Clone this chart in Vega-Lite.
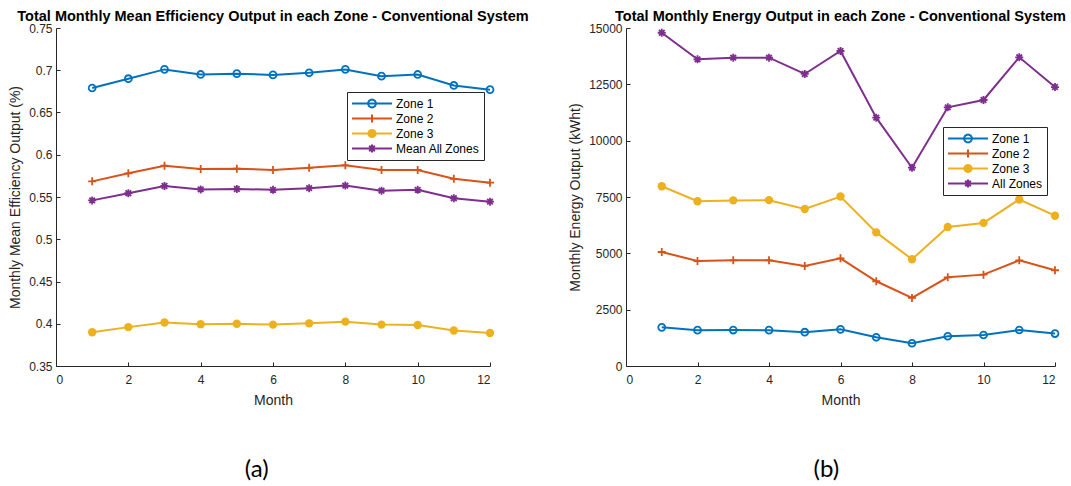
{
  "$schema": "https://vega.github.io/schema/vega-lite/v6.json",
  "background": "white",
  "padding": {"left": 8, "top": 8, "right": 2, "bottom": 5},
  "config": {
    "font": "Liberation Sans",
    "view": {"stroke": null},
    "axis": {"grid": false, "domainColor": "#262626", "tickColor": "#262626", "labelColor": "#262626", "titleColor": "#262626", "labelFontSize": 12, "titleFontSize": 14, "titleFontWeight": "normal", "tickSize": -4, "labelFont": "Liberation Sans", "titleFont": "Liberation Sans"},
    "title": {"fontSize": 14.5, "fontWeight": "bold", "color": "#000000", "offset": -2, "frame": "group", "font": "Liberation Sans"},
    "legend": {
      "title": null, "orient": "none",
      "symbolSize": 1600, "clipHeight": 15, "rowPadding": 0, "padding": 4, "labelOffset": 3,
      "strokeColor": "#262626", "fillColor": "white", "labelFontSize": 12, "labelColor": "#000000", "labelFont": "Liberation Sans",
      "symbolStrokeWidth": 2
    }
  },
  "datasets": {
    "eff": [
      {"month": 1, "zone": "Zone 1", "value": 0.679}, {"month": 2, "zone": "Zone 1", "value": 0.690}, {"month": 3, "zone": "Zone 1", "value": 0.701}, {"month": 4, "zone": "Zone 1", "value": 0.695}, {"month": 5, "zone": "Zone 1", "value": 0.696}, {"month": 6, "zone": "Zone 1", "value": 0.6945}, {"month": 7, "zone": "Zone 1", "value": 0.697}, {"month": 8, "zone": "Zone 1", "value": 0.701}, {"month": 9, "zone": "Zone 1", "value": 0.693}, {"month": 10, "zone": "Zone 1", "value": 0.695}, {"month": 11, "zone": "Zone 1", "value": 0.682}, {"month": 12, "zone": "Zone 1", "value": 0.677},
      {"month": 1, "zone": "Zone 2", "value": 0.5685}, {"month": 2, "zone": "Zone 2", "value": 0.578}, {"month": 3, "zone": "Zone 2", "value": 0.587}, {"month": 4, "zone": "Zone 2", "value": 0.583}, {"month": 5, "zone": "Zone 2", "value": 0.5835}, {"month": 6, "zone": "Zone 2", "value": 0.582}, {"month": 7, "zone": "Zone 2", "value": 0.5845}, {"month": 8, "zone": "Zone 2", "value": 0.5875}, {"month": 9, "zone": "Zone 2", "value": 0.582}, {"month": 10, "zone": "Zone 2", "value": 0.582}, {"month": 11, "zone": "Zone 2", "value": 0.5715}, {"month": 12, "zone": "Zone 2", "value": 0.567},
      {"month": 1, "zone": "Zone 3", "value": 0.390}, {"month": 2, "zone": "Zone 3", "value": 0.396}, {"month": 3, "zone": "Zone 3", "value": 0.4015}, {"month": 4, "zone": "Zone 3", "value": 0.3995}, {"month": 5, "zone": "Zone 3", "value": 0.400}, {"month": 6, "zone": "Zone 3", "value": 0.399}, {"month": 7, "zone": "Zone 3", "value": 0.4005}, {"month": 8, "zone": "Zone 3", "value": 0.4025}, {"month": 9, "zone": "Zone 3", "value": 0.399}, {"month": 10, "zone": "Zone 3", "value": 0.3985}, {"month": 11, "zone": "Zone 3", "value": 0.392}, {"month": 12, "zone": "Zone 3", "value": 0.389},
      {"month": 1, "zone": "Mean All Zones", "value": 0.546}, {"month": 2, "zone": "Mean All Zones", "value": 0.5545}, {"month": 3, "zone": "Mean All Zones", "value": 0.563}, {"month": 4, "zone": "Mean All Zones", "value": 0.559}, {"month": 5, "zone": "Mean All Zones", "value": 0.5595}, {"month": 6, "zone": "Mean All Zones", "value": 0.5585}, {"month": 7, "zone": "Mean All Zones", "value": 0.5605}, {"month": 8, "zone": "Mean All Zones", "value": 0.5635}, {"month": 9, "zone": "Mean All Zones", "value": 0.5575}, {"month": 10, "zone": "Mean All Zones", "value": 0.5585}, {"month": 11, "zone": "Mean All Zones", "value": 0.5485}, {"month": 12, "zone": "Mean All Zones", "value": 0.5445}
    ],
    "energy": [
      {"month": 1, "zone": "Zone 1", "value": 1716}, {"month": 2, "zone": "Zone 1", "value": 1590}, {"month": 3, "zone": "Zone 1", "value": 1595}, {"month": 4, "zone": "Zone 1", "value": 1590}, {"month": 5, "zone": "Zone 1", "value": 1500}, {"month": 6, "zone": "Zone 1", "value": 1627}, {"month": 7, "zone": "Zone 1", "value": 1275}, {"month": 8, "zone": "Zone 1", "value": 1010}, {"month": 9, "zone": "Zone 1", "value": 1320}, {"month": 10, "zone": "Zone 1", "value": 1376}, {"month": 11, "zone": "Zone 1", "value": 1598}, {"month": 12, "zone": "Zone 1", "value": 1440},
      {"month": 1, "zone": "Zone 2", "value": 5060}, {"month": 2, "zone": "Zone 2", "value": 4660}, {"month": 3, "zone": "Zone 2", "value": 4690}, {"month": 4, "zone": "Zone 2", "value": 4690}, {"month": 5, "zone": "Zone 2", "value": 4440}, {"month": 6, "zone": "Zone 2", "value": 4780}, {"month": 7, "zone": "Zone 2", "value": 3760}, {"month": 8, "zone": "Zone 2", "value": 3020}, {"month": 9, "zone": "Zone 2", "value": 3935}, {"month": 10, "zone": "Zone 2", "value": 4055}, {"month": 11, "zone": "Zone 2", "value": 4690}, {"month": 12, "zone": "Zone 2", "value": 4250},
      {"month": 1, "zone": "Zone 3", "value": 7975}, {"month": 2, "zone": "Zone 3", "value": 7310}, {"month": 3, "zone": "Zone 3", "value": 7350}, {"month": 4, "zone": "Zone 3", "value": 7360}, {"month": 5, "zone": "Zone 3", "value": 6970}, {"month": 6, "zone": "Zone 3", "value": 7520}, {"month": 7, "zone": "Zone 3", "value": 5930}, {"month": 8, "zone": "Zone 3", "value": 4735}, {"month": 9, "zone": "Zone 3", "value": 6170}, {"month": 10, "zone": "Zone 3", "value": 6350}, {"month": 11, "zone": "Zone 3", "value": 7390}, {"month": 12, "zone": "Zone 3", "value": 6670},
      {"month": 1, "zone": "All Zones", "value": 14790}, {"month": 2, "zone": "All Zones", "value": 13610}, {"month": 3, "zone": "All Zones", "value": 13685}, {"month": 4, "zone": "All Zones", "value": 13685}, {"month": 5, "zone": "All Zones", "value": 12960}, {"month": 6, "zone": "All Zones", "value": 13980}, {"month": 7, "zone": "All Zones", "value": 11020}, {"month": 8, "zone": "All Zones", "value": 8800}, {"month": 9, "zone": "All Zones", "value": 11480}, {"month": 10, "zone": "All Zones", "value": 11805}, {"month": 11, "zone": "All Zones", "value": 13700}, {"month": 12, "zone": "All Zones", "value": 12380}
    ]
  },
  "spacing": 39,
  "resolve": {"scale": {"color": "independent", "x": "independent", "y": "independent"}, "legend": {"color": "independent"}},
  "hconcat": [
    {
      "title": {"text": "(a)", "orient": "bottom", "anchor": "middle", "frame": "bounds", "fontSize": 24, "font": "Lato", "fontWeight": "normal", "offset": 51, "dx": -12, "color": "#000000"},
      "resolve": {"scale": {"color": "independent"}, "legend": {"color": "independent"}},
      "vconcat": [
        {
          "title": {"text": "Total Monthly Mean Efficiency Output in each Zone - Conventional System"},
          "width": 434,
          "height": 338,
          "data": {"name": "eff"},
          "encoding": {
            "x": {"field": "month", "type": "quantitative", "scale": {"domain": [0, 12], "nice": false}, "axis": {"title": "Month", "values": [0, 2, 4, 6, 8, 10, 12], "labelPadding": 12, "titlePadding": 8}},
            "y": {"field": "value", "type": "quantitative", "scale": {"domain": [0.35, 0.75], "nice": false, "zero": false}, "axis": {"title": "Monthly Mean Efficiency Output (%)", "values": [0.35, 0.4, 0.45, 0.5, 0.55, 0.6, 0.65, 0.7, 0.75], "format": "~g", "labelPadding": 8, "titlePadding": 6}},
            "color": {
              "field": "zone", "type": "nominal",
              "scale": {"domain": ["Zone 1", "Zone 2", "Zone 3", "Mean All Zones"], "range": ["#0072BD", "#D95319", "#EDB120", "#7E2F8E"]},
              "legend": {
                "legendX": 291, "legendY": 64,
                "encode": {"symbols": {"update": {
                  "shape": {"signal": "datum.value === 'Zone 1' ? 'M-1,0H1M0.2,0L0.1732,0.1M0.1732,0.1L0.1,0.1732M0.1,0.1732L0,0.2M0,0.2L-0.1,0.1732M-0.1,0.1732L-0.1732,0.1M-0.1732,0.1L-0.2,0M-0.2,0L-0.1732,-0.1M-0.1732,-0.1L-0.1,-0.1732M-0.1,-0.1732L0,-0.2M0,-0.2L0.1,-0.1732M0.1,-0.1732L0.1732,-0.1M0.1732,-0.1L0.2,0' : datum.value === 'Zone 2' ? 'M-1,0H1M0,-0.2V0.2' : datum.value === 'Zone 3' ? 'M-1,0H1M0.18,0C0.18,0.1,0.1,0.18,0,0.18C-0.1,0.18,-0.18,0.1,-0.18,0C-0.18,-0.1,-0.1,-0.18,0,-0.18C0.1,-0.18,0.18,-0.1,0.18,0ZM0.1,0L0.05,0.0866M0.05,0.0866L-0.05,0.0866M-0.05,0.0866L-0.1,0M-0.1,0L-0.05,-0.0866M-0.05,-0.0866L0.05,-0.0866M0.05,-0.0866L0.1,0M-0.04,0L0.04,0' : 'M-1,0H1M0,-0.2V0.2M-0.14,-0.14L0.14,0.14M-0.14,0.14L0.14,-0.14'"},
                  "fill": {"signal": "datum.value === 'Zone 3' ? '#EDB120' : 'transparent'"},
                  "stroke": {"signal": "datum.value === 'Zone 1' ? '#0072BD' : datum.value === 'Zone 2' ? '#D95319' : datum.value === 'Zone 3' ? '#EDB120' : '#7E2F8E'"},
                  "strokeWidth": {"value": 2}
                }}}
              }
            }
          },
          "layer": [
            {"mark": {"type": "line", "strokeWidth": 2}},
            {"transform": [{"filter": "datum.zone === 'Zone 1'"}], "mark": {"type": "point", "shape": "circle", "filled": false, "strokeWidth": 1.8, "size": 48, "opacity": 1}},
            {"transform": [{"filter": "datum.zone === 'Zone 2'"}], "mark": {"type": "point", "shape": "M-1,0H1M0,-1V1", "filled": false, "strokeWidth": 1.8, "size": 64, "opacity": 1}},
            {"transform": [{"filter": "datum.zone === 'Zone 3'"}], "mark": {"type": "point", "shape": "circle", "filled": true, "size": 70, "opacity": 1}},
            {"transform": [{"filter": "datum.zone === 'Mean All Zones'"}], "mark": {"type": "point", "shape": "M-1,0H1M0,-1V1M-0.7,-0.7L0.7,0.7M-0.7,0.7L0.7,-0.7", "filled": false, "strokeWidth": 1.8, "size": 64, "opacity": 1}}
          ]
        }
      ]
    },
    {
      "title": {"text": "(b)", "orient": "bottom", "anchor": "middle", "frame": "bounds", "fontSize": 24, "font": "Lato", "fontWeight": "normal", "offset": 51, "dx": 9, "color": "#000000"},
      "resolve": {"scale": {"color": "independent"}, "legend": {"color": "independent"}},
      "vconcat": [
        {
          "title": {"text": "Total Monthly Energy Output in each Zone - Conventional System"},
          "width": 429,
          "height": 338,
          "data": {"name": "energy"},
          "encoding": {
            "x": {"field": "month", "type": "quantitative", "scale": {"domain": [0, 12], "nice": false}, "axis": {"title": "Month", "values": [0, 2, 4, 6, 8, 10, 12], "labelPadding": 12, "titlePadding": 8}},
            "y": {"field": "value", "type": "quantitative", "scale": {"domain": [0, 15000], "nice": false}, "axis": {"title": "Monthly Energy Output (kWht)", "values": [0, 2500, 5000, 7500, 10000, 12500, 15000], "format": "d", "labelPadding": 8, "titlePadding": 6}},
            "color": {
              "field": "zone", "type": "nominal",
              "scale": {"domain": ["Zone 1", "Zone 2", "Zone 3", "All Zones"], "range": ["#0072BD", "#D95319", "#EDB120", "#7E2F8E"]},
              "legend": {
                "legendX": 317, "legendY": 99,
                "encode": {"symbols": {"update": {
                  "shape": {"signal": "datum.value === 'Zone 1' ? 'M-1,0H1M0.2,0L0.1732,0.1M0.1732,0.1L0.1,0.1732M0.1,0.1732L0,0.2M0,0.2L-0.1,0.1732M-0.1,0.1732L-0.1732,0.1M-0.1732,0.1L-0.2,0M-0.2,0L-0.1732,-0.1M-0.1732,-0.1L-0.1,-0.1732M-0.1,-0.1732L0,-0.2M0,-0.2L0.1,-0.1732M0.1,-0.1732L0.1732,-0.1M0.1732,-0.1L0.2,0' : datum.value === 'Zone 2' ? 'M-1,0H1M0,-0.2V0.2' : datum.value === 'Zone 3' ? 'M-1,0H1M0.18,0C0.18,0.1,0.1,0.18,0,0.18C-0.1,0.18,-0.18,0.1,-0.18,0C-0.18,-0.1,-0.1,-0.18,0,-0.18C0.1,-0.18,0.18,-0.1,0.18,0ZM0.1,0L0.05,0.0866M0.05,0.0866L-0.05,0.0866M-0.05,0.0866L-0.1,0M-0.1,0L-0.05,-0.0866M-0.05,-0.0866L0.05,-0.0866M0.05,-0.0866L0.1,0M-0.04,0L0.04,0' : 'M-1,0H1M0,-0.2V0.2M-0.14,-0.14L0.14,0.14M-0.14,0.14L0.14,-0.14'"},
                  "fill": {"signal": "datum.value === 'Zone 3' ? '#EDB120' : 'transparent'"},
                  "stroke": {"signal": "datum.value === 'Zone 1' ? '#0072BD' : datum.value === 'Zone 2' ? '#D95319' : datum.value === 'Zone 3' ? '#EDB120' : '#7E2F8E'"},
                  "strokeWidth": {"value": 2}
                }}}
              }
            }
          },
          "layer": [
            {"mark": {"type": "line", "strokeWidth": 2}},
            {"transform": [{"filter": "datum.zone === 'Zone 1'"}], "mark": {"type": "point", "shape": "circle", "filled": false, "strokeWidth": 1.8, "size": 48, "opacity": 1}},
            {"transform": [{"filter": "datum.zone === 'Zone 2'"}], "mark": {"type": "point", "shape": "M-1,0H1M0,-1V1", "filled": false, "strokeWidth": 1.8, "size": 64, "opacity": 1}},
            {"transform": [{"filter": "datum.zone === 'Zone 3'"}], "mark": {"type": "point", "shape": "circle", "filled": true, "size": 70, "opacity": 1}},
            {"transform": [{"filter": "datum.zone === 'All Zones'"}], "mark": {"type": "point", "shape": "M-1,0H1M0,-1V1M-0.7,-0.7L0.7,0.7M-0.7,0.7L0.7,-0.7", "filled": false, "strokeWidth": 1.8, "size": 64, "opacity": 1}}
          ]
        }
      ]
    }
  ]
}
